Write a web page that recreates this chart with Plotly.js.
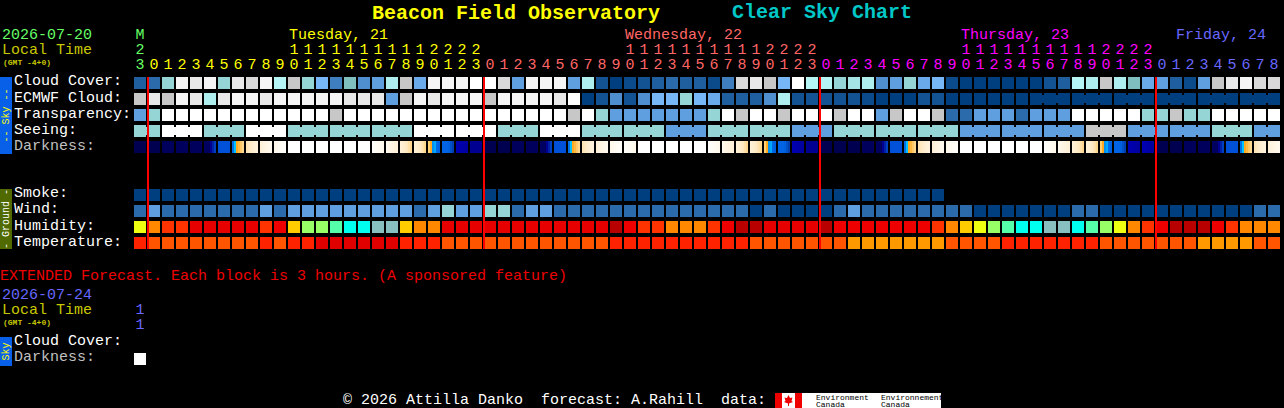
<!DOCTYPE html>
<html><head><meta charset="utf-8">
<script src="https://cdn.plot.ly/plotly-3.0.1.min.js"></script>
<style>html,body{margin:0;padding:0;background:#000;overflow:hidden}#chart{width:1284px;height:408px}</style>
</head><body><div id="chart"></div>
<script>
// ---------- data ----------
const skyPalette = ["#003f7f","#0b4b8b","#135393","#1f5f9f","#2b6bab","#3f7fbf","#4f8fcf","#5f9fdf","#6aaaea","#77b7f7","#7fbfbf","#95d5d5","#a5e5e5","#aeeeee","#b5f5f5","#c7c7c7","#d9d9d9","#e8e8e8","#f5f5f5","#ffffff"];
const humidityPalette = ["#b80000","#e60000","#ee0000","#ff3300","#ff8800","#ffcc00","#eeff11","#99ff66","#55ffaa","#00ffee","#88bfbf"];
const temperaturePalette = ["#e00000","#ff2200","#ff5500","#ff9900"];

const cloudCover = [3,4,11,18,17,18,11,17,16,18,14,15,11,9,5,10,6,7,13,15,8,18,18,18,19,19,16,7,18,18,18,7,13,2,0,1,2,3,4,3,3,1,5,16,17,15,9,19,14,14,11,12,13,6,7,11,8,9,1,0,0,0,0,0,0,2,3,14,13,15,13,10,8,7,3,1,7,15,17,18,16,16];
const ecmwfCloud = [15,17,15,18,17,13,17,18,18,17,18,18,18,18,18,17,17,17,7,15,18,17,18,18,18,15,18,18,18,18,17,19,0,2,6,2,6,9,9,11,9,8,3,3,3,6,13,2,2,2,2,2,1,0,0,0,2,2,0,0,0,0,0,0,0,0,0,0,0,0,0,0,0,0,0,0,0,0,0,0,0,0];
const transparency = [7,11,19,19,19,19,19,19,19,19,19,19,19,19,15,19,19,19,19,19,19,19,19,19,19,19,19,19,19,19,19,15,19,11,7,7,7,7,7,7,7,11,19,15,19,19,15,19,19,19,15,19,19,7,15,19,19,15,4,4,7,7,7,4,7,7,7,19,19,19,19,19,11,11,15,11,11,19,19,19,19,19];
const seeing = [11,11,19,19,19,11,11,11,19,19,19,11,11,11,11,11,11,11,11,11,19,19,19,19,19,19,11,11,11,19,19,19,11,11,11,11,11,11,7,7,7,11,11,11,11,11,11,7,7,7,11,11,11,11,11,11,11,11,11,7,7,7,7,7,7,7,7,7,15,15,15,7,7,7,7,7,7,11,11,11,7,7];
const smoke = [0,0,0,0,0,0,0,0,0,0,0,0,0,0,0,0,0,0,0,0,0,0,0,0,0,0,0,0,0,0,0,0,0,0,0,0,0,0,0,0,0,0,0,0,0,0,0,0,0,0,0,0,0,0,0,0,0,0];
const wind = [4,7,4,4,4,4,4,4,4,7,4,7,7,7,7,7,7,7,7,7,4,7,11,7,7,11,11,4,7,7,4,4,4,4,4,4,4,4,4,4,4,4,4,4,0,4,0,0,0,0,4,7,4,4,4,4,4,4,4,4,0,0,0,0,0,0,0,4,4,0,0,0,0,0,0,0,0,0,0,0,4,4];
const humidity = [6,4,3,3,1,1,1,1,1,3,2,5,7,7,8,9,9,10,10,5,4,4,1,1,1,1,1,1,1,1,1,1,1,1,0,2,3,3,4,4,4,3,2,0,0,1,1,1,1,0,2,2,2,2,2,2,2,3,4,5,6,7,8,9,9,10,10,9,8,7,6,4,3,2,0,0,0,2,3,4,4,4];
const temperature = [1,2,2,2,2,2,2,2,2,1,2,1,1,0,0,0,0,0,0,1,1,1,2,2,2,2,2,2,2,2,2,2,2,2,1,1,1,1,1,1,1,1,1,1,2,2,2,2,2,2,2,3,3,3,3,3,3,3,2,2,2,2,1,1,1,1,1,1,1,2,2,2,2,2,2,2,3,3,3,3,2,2];

const NIGHT = ["#000050"];
const DARK = ["#00005c"];
const DUSK1 = ["#000060","#000060","#000060","#000090","#0020a8","#0040c0"];
const DAWNBLUE = ["#0050d8"];
const DAWN = ["#0070e8","#00c0ff","#ffa820","#ffb840","#ffc868","#ffd890"];
const LIGHT1 = ["#ffe4b8","#ffe8c0","#ffeccc","#ffeed2","#fff0d8","#fff2dc"];
const LIGHT2 = ["#fff0d8","#fff2de","#fff4e2","#fff6e6","#fff7ea","#fff8ec"];
const LIGHT3 = ["#fff7ea","#fff8ee","#fffaf2","#fffbf5","#fffcf7","#fffdfa"];
const DAY = ["#ffffff"];
const LATE1 = ["#fffefc","#fffdf8","#fffcf5","#fffbf2","#fffaef","#fff8ec"];
const LATE2 = ["#fff8ec","#fff6e8","#fff5e4","#fff3e0","#fff2dc","#fff0d8"];
const LATE3 = ["#fff0d8","#ffeed0","#ffecc8","#ffe8c0","#ffe0a8","#ffd890"];
const DUSK = ["#ffd070","#ffa820","#0090f0","#00a8ff","#0068e8","#0060e0"];
const DUSK2 = ["#0064e4","#0064e4","#0064e4","#0060e0","#0050c8","#0040b0"];
const EVE1 = ["#0000b0","#0000b0","#0000a8","#0000a8","#0000a0","#0000a0"];
const EVE2 = ["#000090"];
const darkness = [NIGHT,NIGHT,DARK,DARK,DARK,DUSK1,DAWNBLUE,DAWN,LIGHT1,LIGHT2,LIGHT3,DAY,DAY,DAY,DAY,DAY,DAY,LATE1,LATE2,LATE3,LATE3,DUSK,DUSK2,EVE1,EVE2,NIGHT,NIGHT,DARK,DARK,DUSK1,DAWNBLUE,DAWN,LIGHT1,LIGHT2,LIGHT3,LATE1,DAY,DAY,DAY,DAY,DAY,LATE1,LATE2,LATE3,LATE3,DUSK,DUSK2,EVE1,EVE2,NIGHT,NIGHT,NIGHT,DARK,DUSK1,DAWNBLUE,DAWN,LIGHT1,LIGHT2,LIGHT3,DAY,DAY,DAY,DAY,DAY,DAY,LATE1,LATE2,LATE3,LATE3,DUSK,DUSK2,EVE1,EVE1,NIGHT,NIGHT,DARK,DARK,DUSK1,DAWNBLUE,DAWN,LIGHT1,LIGHT2];
const extendedDarkness = [19];

const hourUnits = "3012345678901234567890123012345678901234567890123012345678901234567890123012345678".split("");
const hourTens  = ("2"+"          "+"1111111111"+"2222"+"          "+"1111111111"+"2222"+"          "+"1111111111"+"2222"+"         ").split("");
const daySpans = [[0,1,"#66ff66"],[1,25,"#ffff00"],[25,49,"#ff6666"],[49,73,"#ff00ff"],[73,82,"#6868ff"]];
const midnightColumns = [1,25,49,73];

const rowLabels = ["Cloud Cover:","ECMWF Cloud:","Transparency:","Seeing:","Darkness:","Smoke:","Wind:","Humidity:","Temperature:"];
const rowLabelCenters = [82,98,114,130,146,193.5,210,226,242];
const extendedRow = 17.25;

// ---------- layout helpers (pixel grid of the picture) ----------
const W = 1284, H = 408, PITCH = 14, ROW = 16, CELL = 12;
const xw = CELL/PITCH, yh = CELL/ROW;
const traces = [];
function bars(x, y, w, h, colors, name){
  traces.push({type:"bar", name, x, y:x.map(()=>h), base:y.map(v=>v-h/2), width:w,
    marker:{color:colors, line:{width:0}}, hoverinfo:"skip", showlegend:false});
}
function row(name, r, levels, pal){
  bars(levels.map((_,i)=>i), levels.map(()=>r), xw, yh, levels.map(v=>pal[v]), name);
}
function necks(name, r, levels, pal, isLink){
  const xs=[], cs=[];
  levels.forEach((v,i)=>{ if(i<levels.length-1 && isLink(i)){ xs.push(i+0.5); cs.push(pal[v]); } });
  bars(xs, xs.map(()=>r), (PITCH-CELL)/PITCH, 8/ROW, cs, name+" link");
}
row("Cloud Cover",0,cloudCover,skyPalette);
row("ECMWF Cloud",1,ecmwfCloud,skyPalette);
necks("ECMWF Cloud",1,ecmwfCloud,skyPalette,i=>i>=64 && (i-64)%3!==2);
row("Transparency",2,transparency,skyPalette);
row("Seeing",3,seeing,skyPalette);
necks("Seeing",3,seeing,skyPalette,i=>(i-2+3)%3!==2);
row("Smoke",7,smoke,skyPalette);
row("Wind",8,wind,skyPalette);
row("Humidity",9,humidity,humidityPalette);
row("Temperature",10,temperature,temperaturePalette);
// darkness: stripes inside a cell
(function(){
  const xs=[], cs=[], ws=[];
  darkness.forEach((st,i)=>{ const n=st.length; st.forEach((c,k)=>{
    xs.push(i-xw/2+(k+0.5)*xw/n); ws.push(xw/n); cs.push(c); }); });
  traces.push({type:"bar",name:"Darkness",x:xs,y:xs.map(()=>yh),base:xs.map(()=>4-yh/2),width:ws,
    marker:{color:cs,line:{width:0}},hoverinfo:"skip",showlegend:false});
})();
row("Extended Darkness",extendedRow,extendedDarkness,skyPalette);

// header digits via the same column axis
const yOf = p => (p-83)/ROW;
daySpans.forEach(([a,b,c])=>{
  const idx=[]; for(let i=a;i<b;i++) idx.push(i);
  traces.push({type:"scatter",mode:"text",x:idx,y:idx.map(()=>yOf(65)),text:idx.map(i=>hourUnits[i]),
    textposition:"middle center",textfont:{family:"Liberation Mono",size:15,color:c},hoverinfo:"skip",showlegend:false,cliponaxis:false});
  const tens = idx.filter(i=>hourTens[i]!==" ");
  traces.push({type:"scatter",mode:"text",x:tens,y:tens.map(()=>yOf(50)),text:tens.map(i=>hourTens[i]),
    textposition:"middle center",textfont:{family:"Liberation Mono",size:15,color:c},hoverinfo:"skip",showlegend:false,cliponaxis:false});
});
traces.push({type:"scatter",mode:"text",x:[0],y:[yOf(35)],text:["M"],textposition:"middle center",
  textfont:{family:"Liberation Mono",size:15,color:"#66ff66"},hoverinfo:"skip",showlegend:false});
traces.push({type:"scatter",mode:"text",x:[0],y:[yOf(310)],text:["1"],textposition:"middle center",
  textfont:{family:"Liberation Mono",size:15,color:"#6868ff"},hoverinfo:"skip",showlegend:false});
traces.push({type:"scatter",mode:"text",x:[0],y:[yOf(325)],text:["1"],textposition:"middle center",
  textfont:{family:"Liberation Mono",size:15,color:"#6868ff"},hoverinfo:"skip",showlegend:false});

const mono = "Liberation Mono";
function label(x,y,text,color,size,extra){
  return Object.assign({xref:"paper",yref:"paper",x:x/W,y:1-y/H,text,showarrow:false,xanchor:"left",yanchor:"middle",align:"left",
    borderpad:0,borderwidth:0,font:{family:mono,size:size||15,color}},extra||{});
}
function side(y,text,color){
  return {xref:"paper",yref:"paper",x:6/W,y:1-y/H,text,textangle:-90,showarrow:false,xanchor:"center",yanchor:"middle",borderpad:0,
    font:{family:mono,size:10,color}};
}
function rect(x0,y0,x1,y1,c){ return {type:"rect",xref:"paper",yref:"paper",x0:x0/W,x1:x1/W,y0:1-y0/H,y1:1-y1/H,fillcolor:c,line:{width:0},layer:"below"}; }

const annotations = [
  label(732,12,"Clear Sky Chart","#00c8c8",20,{font:{family:mono,size:20,color:"#00c8c8",weight:700}}),
  label(2,35,"2026-07-20","#66ff66"),
  label(2,50,"Local Time","#c8c800"),
  label(3,62,"(GMT -4+0)","#c8c800",8,{font:{family:mono,size:8,color:"#c8c800",weight:700}}),
  label(289,35,"Tuesday, 21","#ffff00"),
  label(625,35,"Wednesday, 22","#ff6666"),
  label(961,35,"Thursday, 23","#ff00ff"),
  label(1176,35,"Friday, 24","#6868ff"),
  label(0,276,"EXTENDED Forecast. Each block is 3 hours. (A sponsored feature)","#ee0000"),
  label(2,295,"2026-07-24","#6868ff"),
  label(2,310,"Local Time","#c8c800"),
  label(3,322,"(GMT -4+0)","#c8c800",8,{font:{family:mono,size:8,color:"#c8c800",weight:700}}),
  label(14,341,"Cloud Cover:","#ffffff"),
  label(14,357,"Darkness:","#c0c0c0"),
  label(343,400,"© 2026 Attilla Danko  forecast: A.Rahill  data:","#ffffff"),
  side(115.5,"-- Sky --","#ffff00"),
  side(219,"- Ground -","#ffffff"),
  side(351.5,"Sky","#ffff00"),
  label(816,397,"Environment","#000000",8),
  label(816,404,"Canada","#000000",8),
  label(881,397,"Environnement","#000000",8),
  label(881,404,"Canada","#000000",8),
];
rowLabels.forEach((t,k)=>{
  annotations.push(label(14,rowLabelCenters[k],t,t==="Darkness:"?"#c0c0c0":"#ffffff"));
});

const leaf = "M788.5 395 L790 398 L792.5 397.5 L791.5 401 L793 402 L789 403.5 L789 406 L788 406 L788 403.5 L784 402 L785.5 401 L784.5 397.5 L787 398 Z";
const leafPath = leaf.replace(/([ML]?)(\d+\.?\d*) (\d+\.?\d*)/g,(m,c,a,b)=>`${c}${(a/W).toFixed(5)} ${(1-b/H).toFixed(5)}`);
const shapes = [
  rect(0,77,12,154,"#0860e8"),
  rect(0,189,12,249,"#506a00"),
  rect(0,337,12,366,"#0860e8"),
  rect(775,393,941,408,"#ffffff"),
  rect(775,393,782,408,"#ee0000"),
  rect(795,393,802,408,"#ee0000"),
  {type:"path",xref:"paper",yref:"paper",path:leafPath,fillcolor:"#ee0000",line:{width:0}},
].concat(midnightColumns.map(c=>({type:"line",xref:"x",yref:"y",x0:c-xw/2,x1:c-xw/2,y0:-yh/2,y1:10+yh/2,line:{color:"#ff0000",width:2},layer:"above"})));

const layout = {
  width:W,height:H,autosize:false,margin:{l:0,r:0,t:0,b:0,pad:0},
  paper_bgcolor:"#000",plot_bgcolor:"#000",barmode:"overlay",showlegend:false,
  title:{text:"Beacon Field Observatory",x:372/W,xanchor:"left",xref:"container",y:1-12/H,yanchor:"middle",yref:"container",
    font:{family:mono,size:20,color:"#ffff00",weight:700}},
  xaxis:{range:[-140/PITCH,(W-140)/PITCH],visible:false,fixedrange:true},
  yaxis:{range:[(H-83)/ROW,-83/ROW],visible:false,fixedrange:true},
  annotations,shapes,hovermode:false
};
Plotly.newPlot("chart",traces,layout,{displayModeBar:false,responsive:false});
</script></body></html>
